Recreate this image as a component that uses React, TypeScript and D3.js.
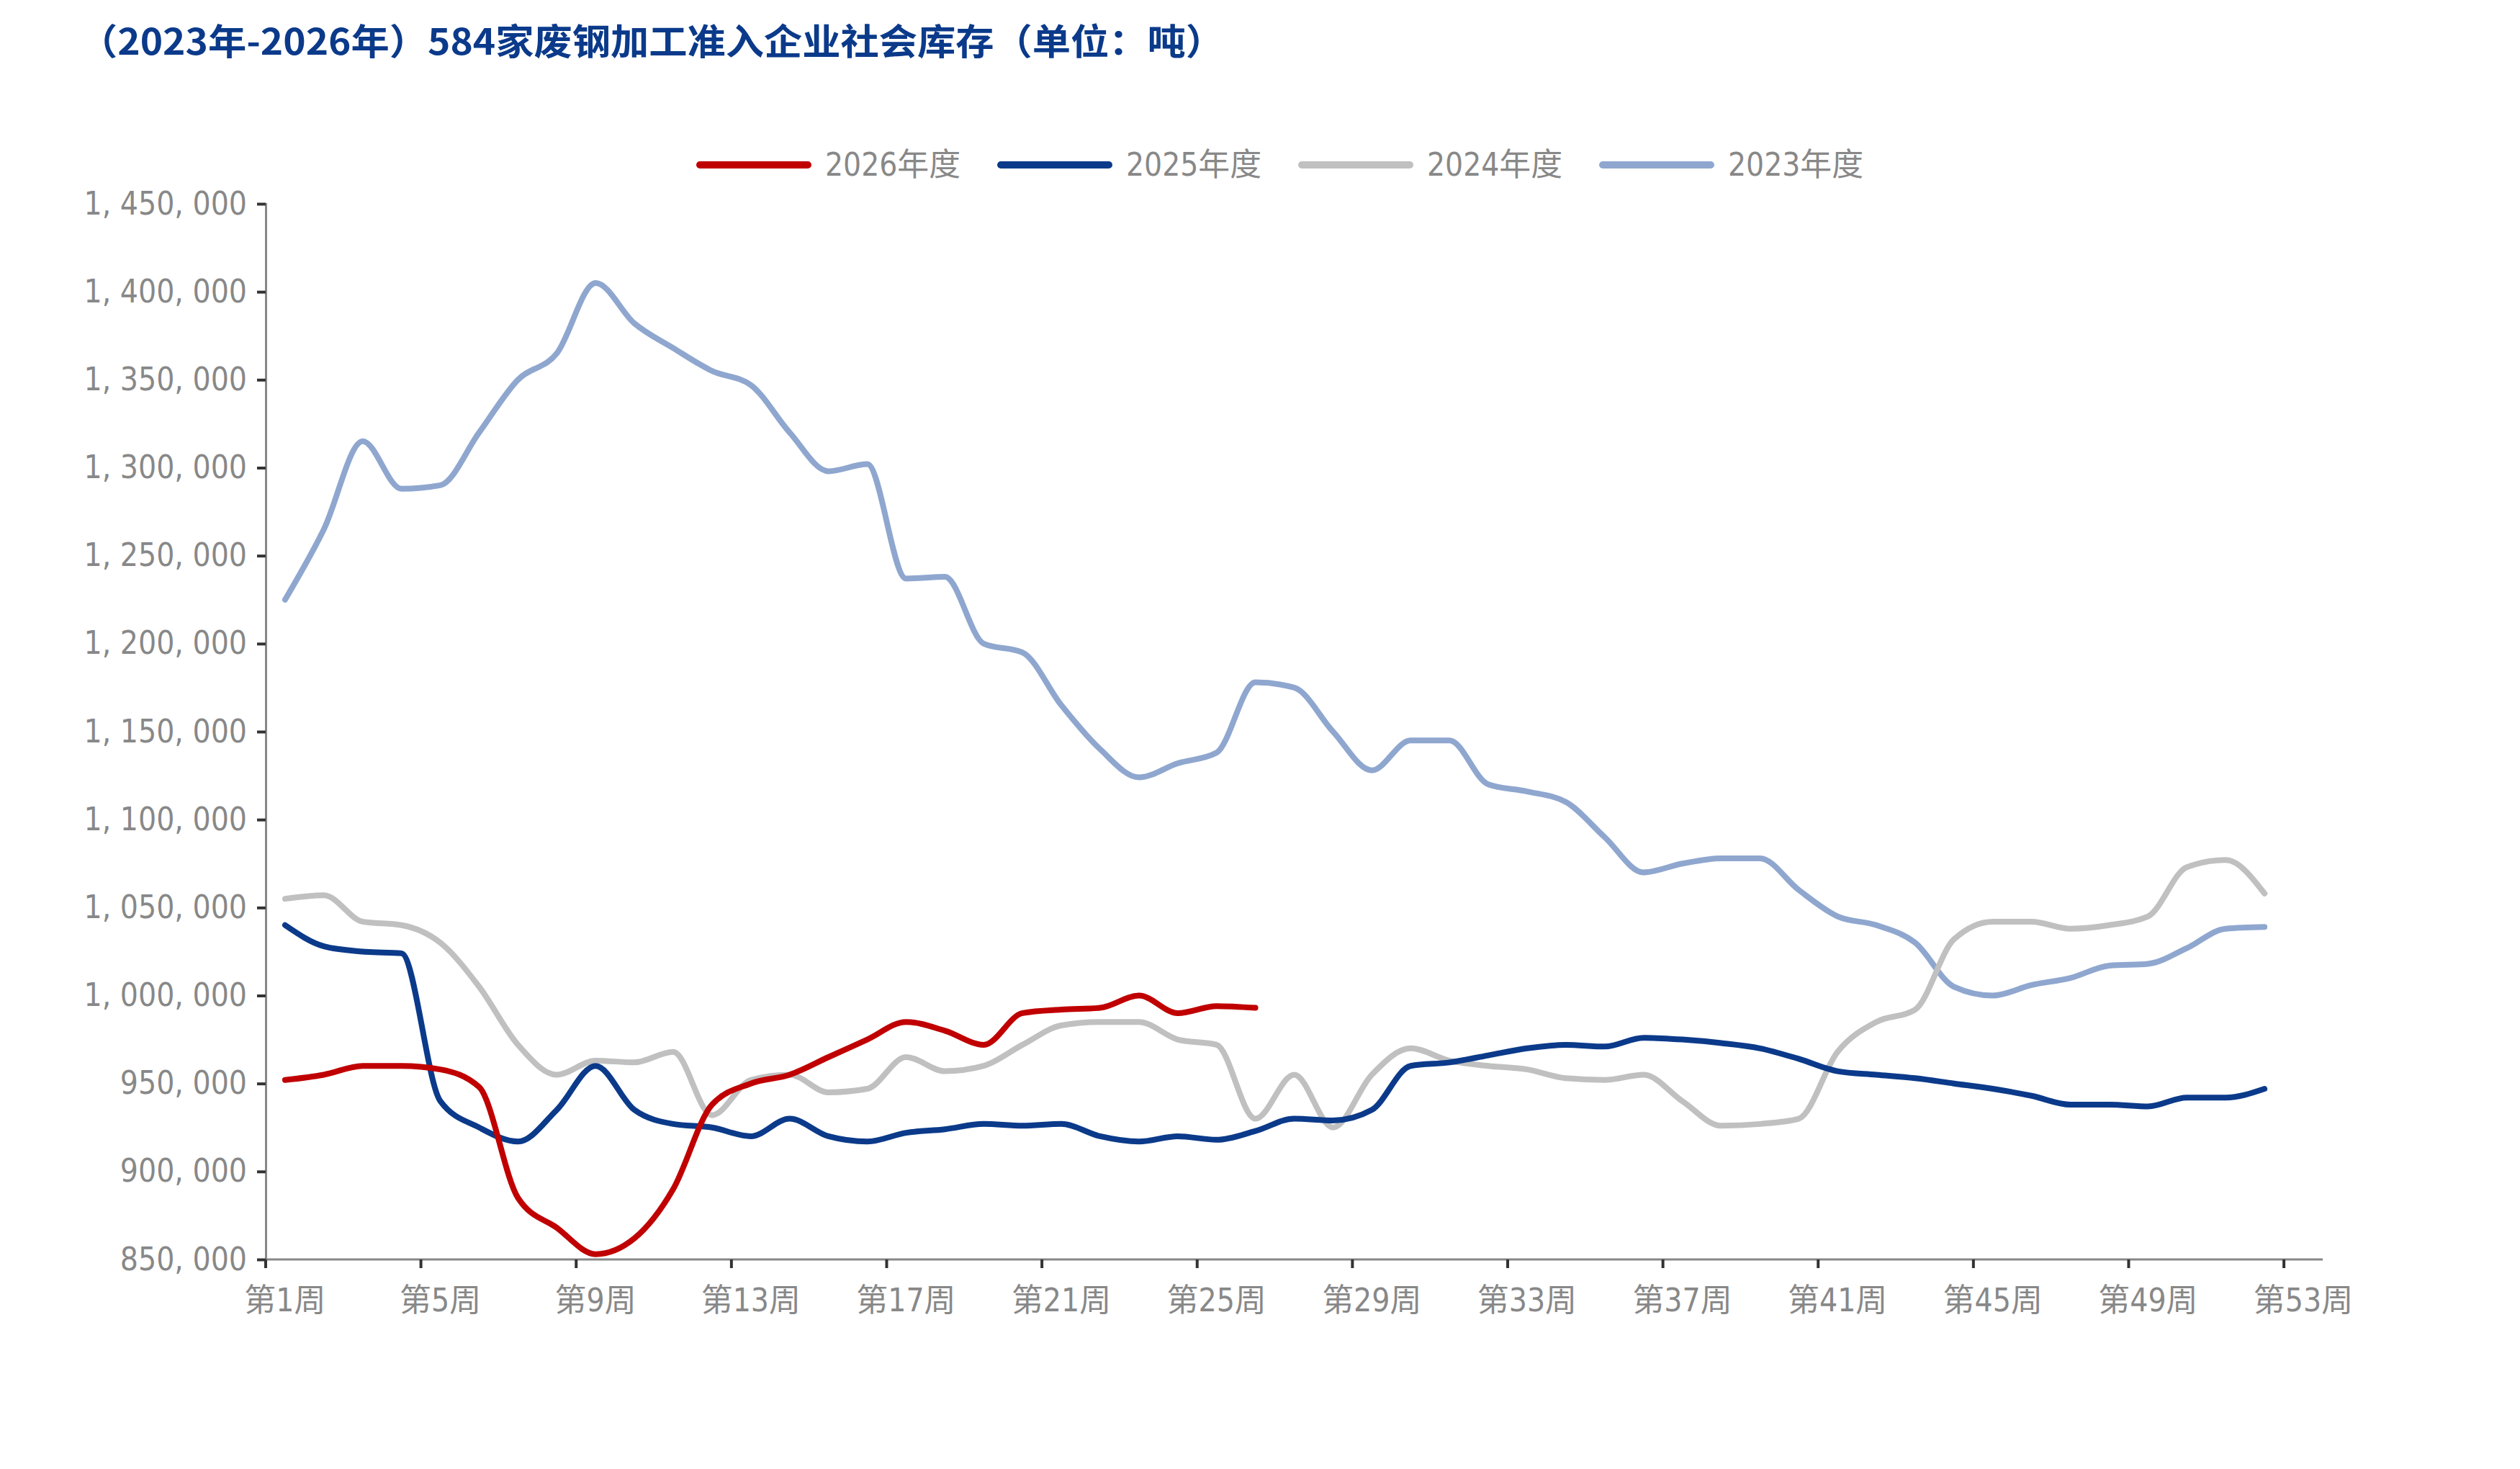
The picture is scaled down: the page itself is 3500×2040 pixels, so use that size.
import React, { useEffect, useRef } from 'react';
import * as d3 from 'd3';

const weeks = d3.range(1, 54).map(w => `第${w}周`);
const yTicks = [850000, 900000, 950000, 1000000, 1050000, 1100000, 1150000, 1200000, 1250000, 1300000, 1350000, 1400000, 1450000];

const s2023 = [1225, 1265, 1315, 1288, 1290, 1320, 1350, 1365, 1405, 1382, 1368, 1355, 1347, 1320, 1298, 1302, 1237, 1238, 1200, 1195, 1165, 1140, 1124, 1132, 1138, 1178, 1175, 1150, 1128, 1145, 1145, 1120, 1116, 1110, 1090, 1070, 1075, 1078, 1078, 1060, 1045, 1040, 1030, 1005, 1000, 1006, 1010, 1017, 1018, 1027, 1038, 1039];
const s2024 = [1055, 1057, 1042, 1040, 1030, 1005, 972, 955, 963, 962, 968, 932, 952, 955, 945, 947, 965, 957, 960, 972, 983, 985, 985, 975, 972, 930, 955, 925, 955, 970, 963, 960, 958, 953, 952, 955, 940, 926, 927, 930, 968, 985, 992, 1032, 1042, 1042, 1038, 1040, 1045, 1073, 1077, 1058];
const s2025 = [1040, 1028, 1025, 1024, 940, 925, 917, 935, 960, 935, 927, 925, 920, 930, 920, 917, 922, 924, 927, 926, 927, 920, 917, 920, 918, 923, 930, 929, 935, 960, 962, 966, 970, 972, 971, 976, 975, 973, 970, 964, 957, 955, 953, 950, 947, 943, 938, 938, 937, 942, 942, 947];
const s2026 = [952, 955, 960, 960, 958, 948, 885, 868, 853, 862, 890, 938, 950, 955, 965, 975, 985, 980, 972, 990, 992, 993, 1000, 990, 994, 993];

const series = [
  { name: '2026年度', color: '#c00000', values: s2026 },
  { name: '2025年度', color: '#0b3a8a', values: s2025 },
  { name: '2024年度', color: '#c0c0c0', values: s2024 },
  { name: '2023年度', color: '#8fa7cf', values: s2023 },
];

const W = 3500, H = 2040;
const margin = { top: 275, right: 282, bottom: 299, left: 361 };

const App: React.FC = () => {
  const svgRef = useRef<SVGSVGElement>(null);

  useEffect(() => {
    if (!svgRef.current) return;
    const svg = d3.select(svgRef.current);
    svg.selectAll('*').remove();

    const x = d3.scaleBand().domain(weeks).range([margin.left, W - margin.right]);
    const y = d3.scaleLinear().domain([850000, 1450000]).range([H - margin.bottom, margin.top]);
    const font = '"DejaVu Sans Condensed", "Noto Sans CJK SC", sans-serif';

    svg.append('text')
      .attr('x', 102).attr('y', 68)
      .attr('font-family', '"Noto Sans CJK SC", sans-serif')
      .attr('font-weight', 'bold').attr('font-size', 50)
      .attr('fill', '#0b3a8a')
      .attr('textLength', 1590).attr('lengthAdjust', 'spacingAndGlyphs')
      .text('（2023年-2026年）584家废钢加工准入企业社会库存（单位：吨）');

    // Legend
    series.forEach((d, i) => {
      const g = svg.append('g').attr('transform', `translate(${960 + i * 418},221)`);
      g.append('line').attr('x1', 4).attr('x2', 154).attr('stroke', d.color)
        .attr('stroke-width', 10).attr('stroke-linecap', 'round');
      g.append('text').attr('x', 178).attr('y', 15)
        .attr('font-family', font).attr('font-size', 44).attr('fill', '#888')
        .attr('textLength', 188).attr('lengthAdjust', 'spacingAndGlyphs')
        .text(d.name);
    });

    // Y axis
    const ya = svg.append('g').attr('transform', `translate(${margin.left},0)`)
      .call(d3.axisLeft(y).tickValues(yTicks).tickSize(12).tickPadding(14)
        .tickFormat(v => d3.format(',')(v as number).replace(/,/g, ', ')));
    ya.select('.domain').attr('stroke', '#888').attr('stroke-width', 3);
    ya.selectAll('.tick line').attr('stroke', '#333').attr('stroke-width', 4);
    ya.selectAll('text').attr('font-family', font).attr('font-size', 44).attr('fill', '#888');

    // X axis: ticks at category boundaries every 4 weeks, labels in band centres
    const xa = svg.append('g').attr('transform', `translate(0,${H - margin.bottom})`);
    xa.append('line').attr('x1', margin.left).attr('x2', W - margin.right)
      .attr('stroke', '#888').attr('stroke-width', 3);
    weeks.forEach((w, i) => {
      if (i % 4 !== 0) return;
      const bx = x(w)!;
      xa.append('line').attr('x1', bx).attr('x2', bx).attr('y2', 12)
        .attr('stroke', '#333').attr('stroke-width', 4);
      xa.append('text').attr('x', bx + x.bandwidth() / 2).attr('y', 72)
        .attr('text-anchor', 'middle').attr('font-family', font)
        .attr('font-size', 44).attr('fill', '#888').text(w);
    });
    const lastX = x(weeks[52])! + x.bandwidth();
    xa.append('line').attr('x1', lastX - x.bandwidth()).attr('x2', lastX - x.bandwidth()).attr('y2', 12)
      .attr('stroke', '#333').attr('stroke-width', 0);

    const line = d3.line<number>()
      .x((_, i) => x(weeks[i])! + x.bandwidth() / 2)
      .y(v => y(v * 1000))
      .curve(d3.curveMonotoneX);

    [...series].reverse().forEach(d => {
      svg.append('path').datum(d.values)
        .attr('fill', 'none').attr('stroke', d.color)
        .attr('stroke-width', 8).attr('stroke-linejoin', 'round').attr('stroke-linecap', 'round')
        .attr('d', line);
    });
  }, []);

  return <svg ref={svgRef} width={W} height={H} style={{ display: 'block', background: '#fff' }} />;
};

export default App;
